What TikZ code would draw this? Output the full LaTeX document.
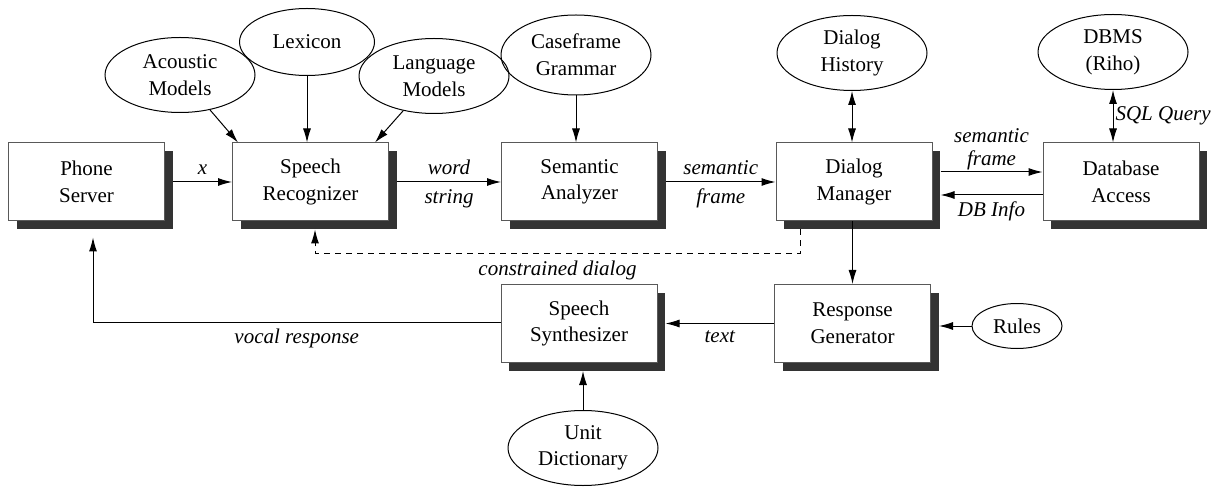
\documentclass[tikz,border=0pt]{standalone}
\usepackage{fontspec}
\setmainfont{Liberation Serif}
\usetikzlibrary{arrows.meta,shadows,shapes.geometric}

\begin{document}
\begin{tikzpicture}[x=0.5pt,y=-0.5pt,line width=0.5pt,
    font=\fontsize{10.5}{13.3}\selectfont,
    >={Latex[length=7pt,width=4pt]}]

        \useasboundingbox (0,0) rectangle (1218,491);

        % modules
        \begin{scope}[every node/.style={draw=black!65, fill=white, align=center,
            minimum width=78pt, minimum height=39pt, inner sep=0pt,
            drop shadow={shadow xshift=4pt, shadow yshift=-4pt, fill=black!80, opacity=1}}]
          \node (phone)  at (86.5,182)  {Phone\\Server};
          \node (recog)  at (310.5,182) {Speech\\Recognizer};
          \node (sem)    at (579.5,182) {Semantic\\Analyzer};
          \node (dialog) at (854,182)   {Dialog\\Manager};
          \node (dbacc)  at (1121,182)  {Database\\Access};
          \node (synth)  at (579,323.5) {Speech\\Synthesizer};
          \node (resp)   at (852.5,323.5) {Response\\Generator};
        \end{scope}

        % knowledge sources
        \begin{scope}[every node/.style={draw, ellipse, align=center, inner sep=0pt,
            minimum width=75pt, minimum height=37.5pt}]
          \node (acoustic)  at (180,75)  {Acoustic\\Models};
          \node[minimum width=67.5pt, minimum height=33.5pt] (lexicon) at (307,42) {Lexicon};
          \node (language)  at (434,76)  {Language\\Models};
          \node[minimum height=40pt] (caseframe) at (576,55) {Caseframe\\Grammar};
          \node (history)   at (852,53)  {Dialog\\History};
          \node (dbms)      at (1113,52) {DBMS\\(Riho)};
          \node[minimum width=45pt, minimum height=22.5pt] (rules) at (1017,326) {Rules};
          \node (unitdict)  at (583,448) {Unit\\Dictionary};
        \end{scope}

        \coordinate (d1) at (800,254);
        \coordinate (d2) at (315,254);
        \coordinate (v1) at (93,322);

        \begin{scope}[every node/.style={font=\fontsize{10.5}{13.3}\selectfont\itshape, align=center}]
          \draw[->] ([xshift=4pt]phone.east) -- node[above] {x} (recog.west);
          \draw[->] ([xshift=4pt]recog.east) -- node[above] {word} node[below] {string} (sem.west);
          \draw[->] ([xshift=4pt]sem.east) -- node[above] {semantic} node[below] {frame} (dialog.west);
          \draw[->] ([xshift=4pt,yshift=5pt]dialog.east) -- node[above, inner sep=1pt, font=\fontsize{10.5}{11.5}\selectfont\itshape] {semantic\\frame} ([yshift=5pt]dbacc.west);
          \draw[->] ([yshift=-6.5pt]dbacc.west) -- node[below] {DB Info} ([xshift=4pt,yshift=-6.5pt]dialog.east);
          \draw[<->] (dbms) -- node[right, inner sep=1pt] {SQL Query} (dbms |- dbacc.north);
          \draw[<->] (history) -- (history |- dialog.north);
          \draw[->] (dialog.south -| resp.north) -- (resp.north);
          \draw[->] (rules.west) -- ([xshift=4pt]resp.east |- rules.west);
          \draw[->] (resp.west) -- node[below] {text} ([xshift=4pt]synth.east |- resp.west);
          \draw[->] (unitdict) -- ([yshift=-4pt]synth.south -| unitdict.north);
          \draw[->] (synth.west |- v1) -- node[below, pos=.5] {vocal response} (v1)
                    -- ([yshift=-8pt]phone.south -| v1);
          \draw[->, dash pattern=on 3pt off 2.5pt]
                    ([yshift=-4pt]dialog.south -| d1) -- (d1) -- node[below] {constrained dialog} (d2)
                    -- ([yshift=-4pt]recog.south -| d2);
        \end{scope}

        % inputs to the recognizer
        \draw[->] (acoustic) -- ([xshift=3pt]recog.north west);
        \draw[->] (lexicon) -- (lexicon |- recog.north);
        \draw[->] (language) -- ([xshift=-7pt]recog.north east);
        \draw[->] (caseframe) -- (caseframe |- sem.north);

      \end{tikzpicture}
\end{document}
